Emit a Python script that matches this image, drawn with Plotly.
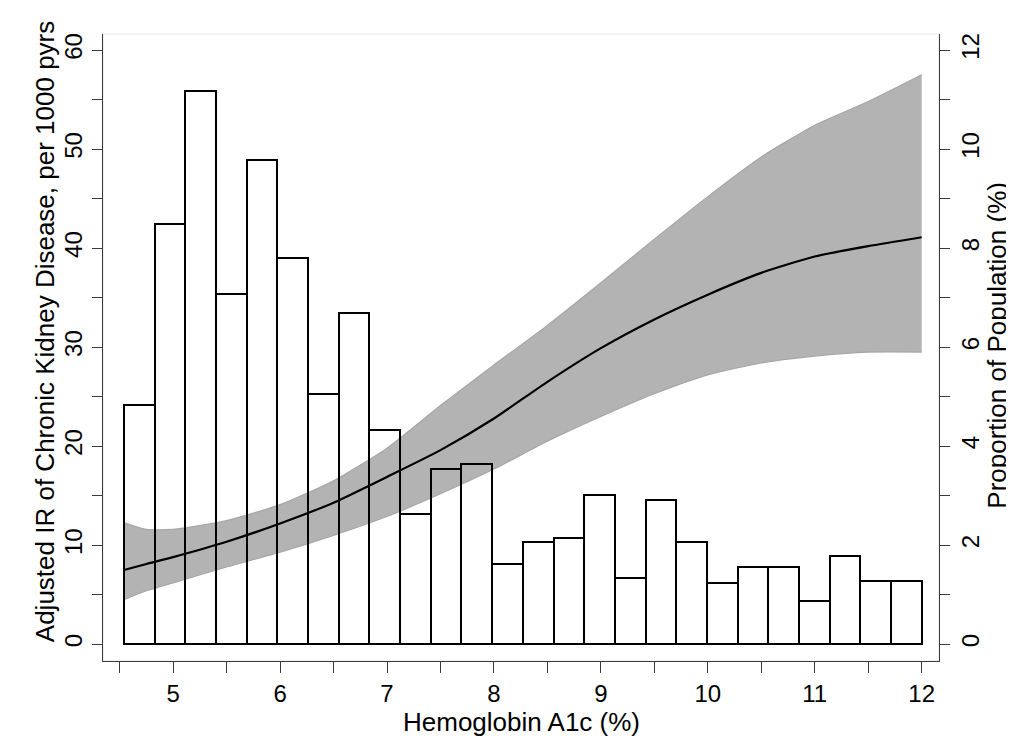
import plotly.graph_objects as go

# ---- data ----
hba1c = [4.54, 4.75, 5.0, 5.5, 6.0, 6.5, 7.0, 7.5, 8.0, 8.5, 9.0, 9.5, 10.0, 10.5, 11.0, 11.5, 12.0]
ir_est = [7.5, 8.1, 8.8, 10.35, 12.2, 14.3, 16.9, 19.6, 22.8, 26.5, 29.9, 32.8, 35.3, 37.5, 39.15, 40.2, 41.1]
ir_upper = [12.3, 11.6, 11.6, 12.5, 14.1, 16.5, 19.8, 24.1, 28.2, 32.2, 36.5, 40.9, 45.2, 49.2, 52.4, 54.8, 57.5]
ir_lower = [4.5, 5.4, 6.2, 7.8, 9.3, 11.0, 12.9, 15.2, 17.7, 20.5, 23.0, 25.3, 27.2, 28.4, 29.1, 29.5, 29.5]

bin_start = 4.54
bin_end = 12.0
proportion = [4.83, 8.48, 11.18, 7.08, 9.78, 7.80, 5.05, 6.68, 4.33, 2.63, 3.53, 3.65, 1.62,
              2.06, 2.14, 3.02, 1.33, 2.91, 2.06, 1.23, 1.57, 1.57, 0.88, 1.78, 1.28, 1.28]

x_ticks = [4.5, 5, 5.5, 6, 6.5, 7, 7.5, 8, 8.5, 9, 9.5, 10, 10.5, 11, 11.5, 12]
y1_ticks = [0, 5, 10, 15, 20, 25, 30, 35, 40, 45, 50, 55, 60]
y2_ticks = [0, 1, 2, 3, 4, 5, 6, 7, 8, 9, 10, 11, 12]

x_title = "Hemoglobin A1c (%)"
y1_title = "Adjusted IR of Chronic Kidney Disease, per 1000 pyrs"
y2_title = "Proportion of Population (%)"

# ---- derived ----
nb = len(proportion)
bw = (bin_end - bin_start) / nb
centers = [bin_start + (i + 0.5) * bw for i in range(nb)]

FONT = "Liberation Sans, Arial, Helvetica, sans-serif"
AX = "#3a3a3a"

fig = go.Figure()

# confidence band: lower edge then upper edge filled to it
fig.add_trace(go.Scatter(
    x=hba1c, y=ir_lower, mode="lines",
    line=dict(color="#a6a6a6", width=1.2, shape="spline", smoothing=0.6),
    hoverinfo="skip", showlegend=False, yaxis="y"))
fig.add_trace(go.Scatter(
    x=hba1c, y=ir_upper, mode="lines", fill="tonexty", fillcolor="#b3b3b3",
    line=dict(color="#a6a6a6", width=1.2, shape="spline", smoothing=0.6),
    hoverinfo="skip", showlegend=False, yaxis="y"))

# estimate line
fig.add_trace(go.Scatter(
    x=hba1c, y=ir_est, mode="lines",
    line=dict(color="black", width=2.2, shape="spline", smoothing=0.6),
    showlegend=False, yaxis="y"))

# histogram bars (right axis)
fig.add_trace(go.Bar(
    x=centers, y=proportion, width=[bw] * nb,
    marker=dict(color="rgba(0,0,0,0)", line=dict(color="black", width=2)),
    showlegend=False, yaxis="y2"))

def lab(vals, step):
    return [str(int(v)) if (v % step == 0) else "" for v in vals]

fig.update_layout(
    width=1014, height=756,
    margin=dict(l=95, r=83, t=26, b=103),
    paper_bgcolor="white", plot_bgcolor="white",
    font=dict(family=FONT, size=24, color="black"),
    bargap=0,
    xaxis=dict(
        range=[4.344, 12.162], tickvals=x_ticks,
        ticktext=[str(int(v)) if v == int(v) else "" for v in x_ticks],
        ticks="outside", ticklen=11, tickwidth=1.3, tickcolor=AX,
        showline=True, linecolor=AX, linewidth=1.3,
        showgrid=False, zeroline=False, tickfont=dict(size=24)),
    yaxis=dict(
        range=[-1.69, 61.62], tickvals=y1_ticks, ticktext=lab(y1_ticks, 10),
        ticks="outside", ticklen=10, tickwidth=1.3, tickcolor=AX, tickangle=-90,
        showline=True, linecolor=AX, linewidth=1.3,
        showgrid=False, zeroline=False, tickfont=dict(size=24)),
    yaxis2=dict(
        range=[-0.338, 12.324], tickvals=y2_ticks, ticktext=lab(y2_ticks, 2),
        overlaying="y", side="right",
        ticks="outside", ticklen=10, tickwidth=1.3, tickcolor=AX, tickangle=-90,
        showline=True, linecolor=AX, linewidth=1.3,
        showgrid=False, zeroline=False, tickfont=dict(size=24)),
    shapes=[dict(type="rect", xref="paper", yref="paper", x0=0, x1=1, y0=0, y1=1,
                 line=dict(color="#e6e6e6", width=1.2), layer="below")],
    annotations=[
        dict(text=x_title, xref="paper", yref="paper", x=0.5, y=-0.0975,
             xanchor="center", yanchor="middle", showarrow=False, font=dict(size=26)),
        dict(text=y1_title, xref="paper", yref="paper", x=-0.0694, y=0.526,
             xanchor="center", yanchor="middle", textangle=-90, showarrow=False, font=dict(size=26)),
        dict(text=y2_title, xref="paper", yref="paper", x=1.069, y=0.504,
             xanchor="center", yanchor="middle", textangle=-90, showarrow=False, font=dict(size=26)),
    ],
)

fig.write_html("out.html")
